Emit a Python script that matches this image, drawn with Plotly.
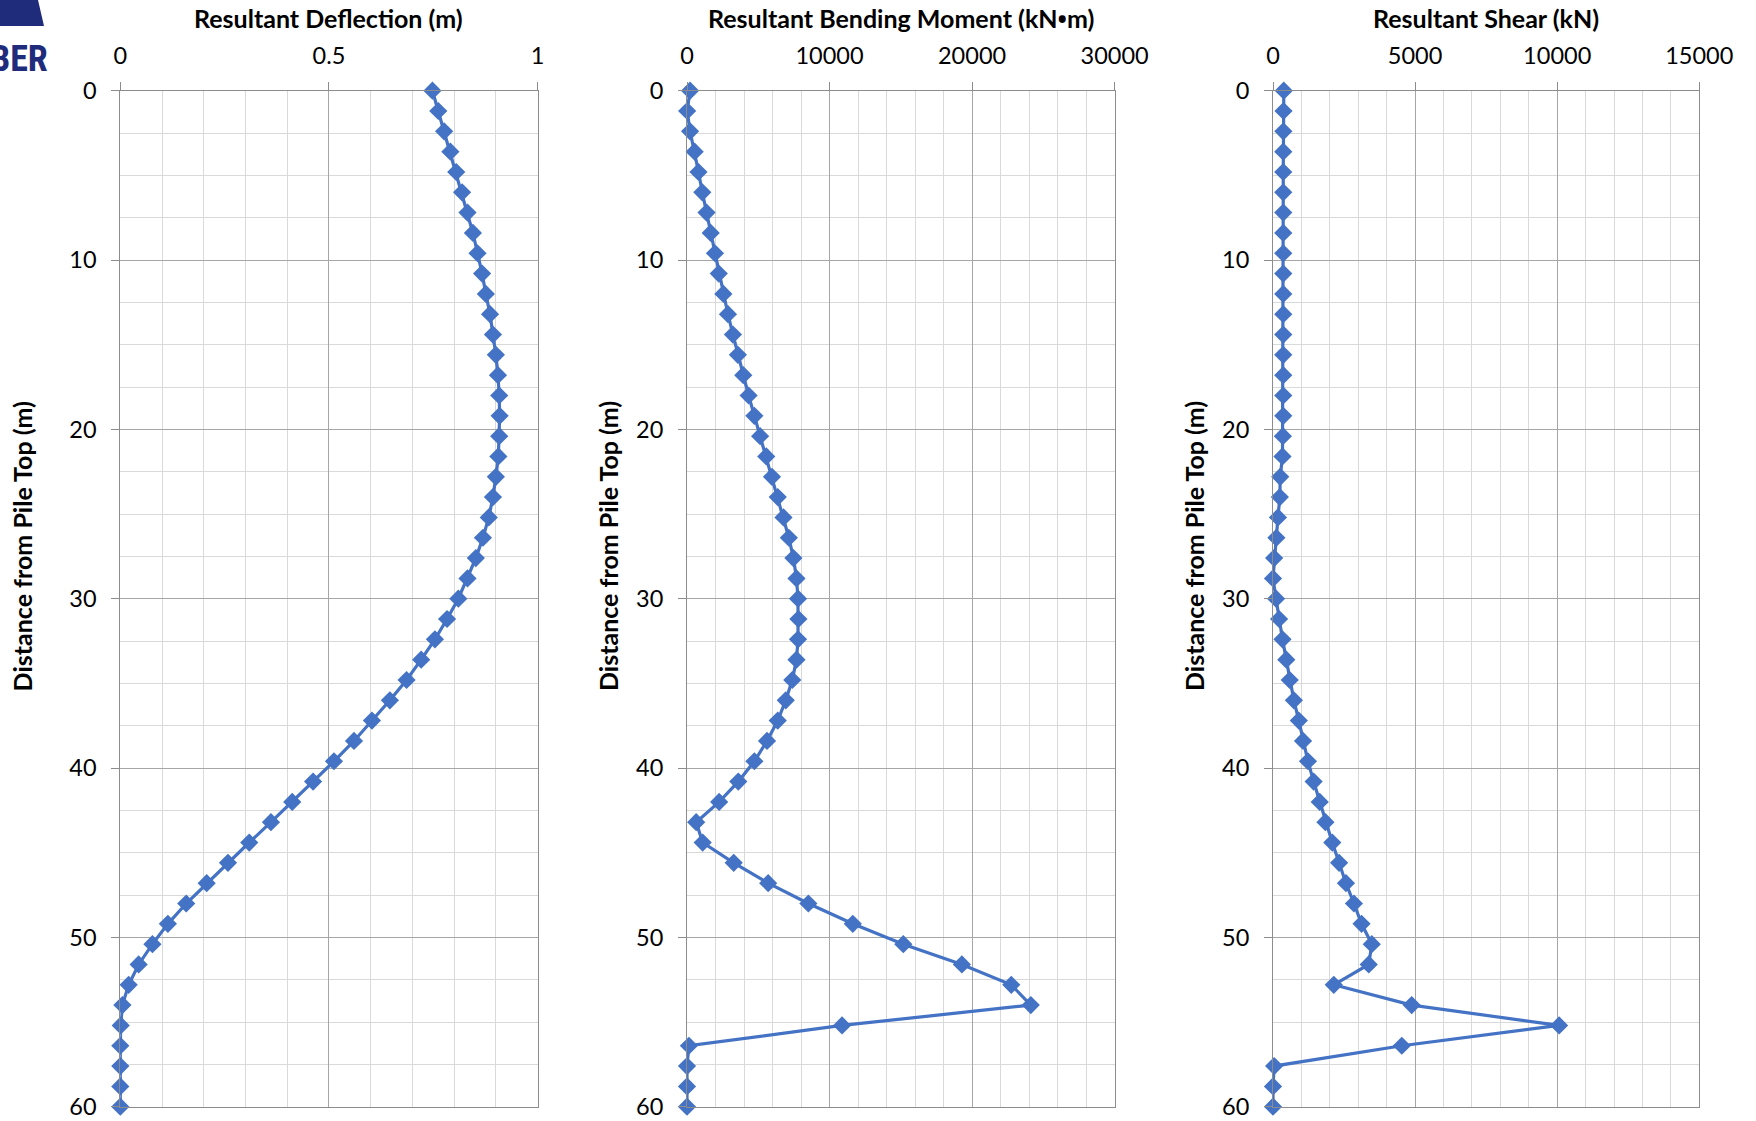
import plotly.graph_objects as go

# ---------------- data ----------------
depth_m = [0, 1.2, 2.4, 3.6, 4.8, 6, 7.2, 8.4, 9.6, 10.8, 12, 13.2, 14.4, 15.6, 16.8,
           18, 19.2, 20.4, 21.6, 22.8, 24, 25.2, 26.4, 27.6, 28.8, 30, 31.2, 32.4,
           33.6, 34.8, 36, 37.2, 38.4, 39.6, 40.8, 42, 43.2, 44.4, 45.6, 46.8, 48,
           49.2, 50.4, 51.6, 52.8, 54, 55.2, 56.4, 57.6, 58.8, 60]

deflection_m = [0.748, 0.762, 0.776, 0.791, 0.805, 0.819, 0.832, 0.845, 0.856, 0.867,
                0.876, 0.886, 0.893, 0.900, 0.905, 0.908, 0.909, 0.908, 0.906, 0.900,
                0.893, 0.883, 0.869, 0.852, 0.832, 0.810, 0.783, 0.754, 0.721, 0.686,
                0.646, 0.603, 0.560, 0.512, 0.462, 0.412, 0.361, 0.309, 0.258, 0.207,
                0.158, 0.114, 0.077, 0.044, 0.020, 0.005, 0.001, 0, 0, 0, 0]

moment_kNm = [215, 10, 215, 537, 806, 1074, 1370, 1665, 1961, 2229, 2552, 2874, 3223,
              3572, 3948, 4324, 4727, 5130, 5560, 5963, 6366, 6769, 7145, 7467, 7682,
              7789, 7816, 7789, 7682, 7387, 6930, 6366, 5614, 4727, 3599, 2256, 645,
              1101, 3277, 5694, 8515, 11631, 15176, 19286, 22751, 24120, 10878, 134,
              0, 0, 0]

shear_kN = [380, 370, 365, 362, 361, 361, 361, 361, 361, 361, 361, 361, 361, 361, 361,
            361, 361, 348, 334, 254, 241, 174, 120, 40, 0, 107, 214, 334, 468, 588,
            735, 909, 1056, 1230, 1430, 1644, 1845, 2086, 2326, 2567, 2848, 3115, 3476,
            3369, 2139, 4880, 10067, 4532, 40, 0, 0]

panel_titles = ["Resultant Deflection (m)",
                "Resultant Bending Moment (kN<span style=\"font-family:'Open Sans'\">•</span>m)",
                "Resultant Shear (kN)"]
y_title = "Distance from Pile Top (m)"
x_ranges = [[0, 1], [0, 30000], [0, 15000]]
x_dticks = [0.5, 10000, 5000]
x_minor = [0.1, 2000, 1000]

# ---------------- layout geometry (pixels) ----------------
W, H = 1756, 1121
panels_px = [(120.3, 537.6), (687.0, 1114.6), (1273.0, 1699.3)]
top_px, bot_px = 90.7, 1106.7
ytitle_x_px = [22.4, 608.0, 1194.0]
ytitle_y_px = 546.0

BLUE = "#4472C4"
FONT = "Lato"
TICK_SIZE = 23.5
TITLE_SIZE = 25

fig = go.Figure()
series = [deflection_m, moment_kNm, shear_kN]
for i, vals in enumerate(series):
    sfx = "" if i == 0 else str(i + 1)
    fig.add_trace(go.Scatter(
        x=vals, y=depth_m, mode="lines+markers",
        line=dict(color=BLUE, width=3.2),
        marker=dict(symbol="diamond", size=14, color=BLUE),
        xaxis="x" + sfx, yaxis="y" + sfx, cliponaxis=False,
        hoverinfo="x+y"))

layout = dict(
    width=W, height=H, margin=dict(l=0, r=0, t=0, b=0, pad=0, autoexpand=False),
    paper_bgcolor="white", plot_bgcolor="white", showlegend=False,
    font=dict(family=FONT, color="black"),
)
annotations = []
for i in range(3):
    sfx = "" if i == 0 else str(i + 1)
    x0, x1 = panels_px[i]
    xd = [x0 / W, x1 / W]
    yd = [1 - bot_px / H, 1 - top_px / H]
    layout["xaxis" + sfx] = dict(
        domain=xd, anchor="y" + sfx, side="top", range=x_ranges[i],
        tick0=0, dtick=x_dticks[i], tickformat=("" if i == 0 else "d"),
        showgrid=True, gridcolor="#a6a6a6", gridwidth=1,
        showline=True, linecolor="#8c8c8c", linewidth=1, mirror=True,
        ticks="outside", ticklen=8, tickcolor="#8c8c8c",
        ticklabelstandoff=8, automargin=False,
        zeroline=False, tickfont=dict(family=FONT, size=TICK_SIZE, color="black"),
        minor=dict(dtick=x_minor[i], tick0=0, showgrid=True,
                   gridcolor="#d9d9d9", gridwidth=1),
        fixedrange=True,
    )
    layout["yaxis" + sfx] = dict(
        domain=yd, anchor="x" + sfx, range=[60, 0], tick0=0, dtick=10,
        showgrid=True, gridcolor="#a6a6a6", gridwidth=1,
        showline=True, linecolor="#8c8c8c", linewidth=1, mirror=True,
        ticks="outside", ticklen=8, tickcolor="#8c8c8c",
        ticklabelstandoff=10, automargin=False,
        zeroline=False, tickfont=dict(family=FONT, size=TICK_SIZE, color="black"),
        minor=dict(dtick=2.5, tick0=0, showgrid=True,
                   gridcolor="#d9d9d9", gridwidth=1),
        fixedrange=True,
    )
    annotations.append(dict(
        text="<b>" + panel_titles[i] + "</b>", xref="paper", yref="paper",
        x=(x0 + x1) / 2 / W, y=1 - 18 / H, xanchor="center", yanchor="middle",
        showarrow=False, font=dict(family=FONT, size=TITLE_SIZE, color="black")))
    annotations.append(dict(
        text="<b>" + y_title + "</b>", xref="paper", yref="paper",
        x=ytitle_x_px[i] / W, y=1 - ytitle_y_px / H, xanchor="center",
        yanchor="middle", textangle=-90, showarrow=False,
        font=dict(family=FONT, size=TITLE_SIZE, color="black")))

# partial logo at top-left corner
annotations.append(dict(
    text="<b>BER</b>", xref="paper", yref="paper", x=50 / W, y=1 - 59 / H,
    xanchor="right", yanchor="middle", showarrow=False,
    font=dict(family="Roboto Condensed, Roboto", size=36, color="#1f2b7b")))
layout["annotations"] = annotations
layout["shapes"] = [dict(
    type="path", xref="paper", yref="paper",
    path=f"M 0,1 L {38 / W},1 L {44 / W},{1 - 26 / H} L 0,{1 - 26 / H} Z",
    fillcolor="#1f2b7b", line=dict(width=0))]

fig.update_layout(**layout)
fig.write_html("out.html", config={"displayModeBar": False, "responsive": False},
               post_script="document.body.style.margin='0';")
